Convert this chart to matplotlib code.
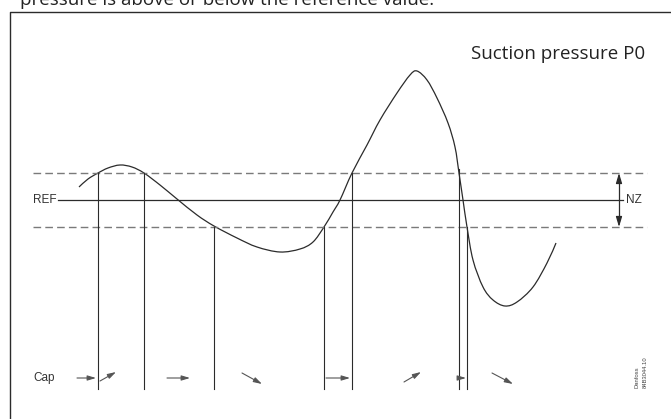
import matplotlib
matplotlib.use("Agg")
import matplotlib.pyplot as plt
from matplotlib.path import Path
from matplotlib.patches import PathPatch

# ---- data (diagram units = pixels of the reference, y grows downward) ----
curve_x = [79, 88, 98, 108, 120, 132, 144, 160, 177, 197, 214, 237, 257, 280, 300,
           313, 324, 333, 340, 352, 367, 380, 397, 410, 417, 427, 437, 448, 455, 459,
           463, 467, 473, 483, 493, 505, 517, 533, 547, 556]
curve_y = [187, 179, 173, 168, 165, 167, 173, 185, 199, 215, 226, 238, 247, 252, 249,
           242, 227, 212, 200, 173, 145, 120, 93, 75, 71, 80, 98, 123, 147, 173,
           200, 227, 260, 287, 300, 306, 302, 287, 263, 243]
ref_level = 200
nz_upper = 173
nz_lower = 227
switch_x = [98, 144, 214, 324, 352, 459, 467]
switch_top = [173, 173, 227, 227, 173, 169, 227]
switch_bottom = 389
cap_arrows = [  # (x0, y0, x1, y1)
    (77, 378, 96, 378),
    (100, 381, 116, 372),
    (167, 378, 190, 378),
    (242, 373, 262, 384),
    (326, 378, 350, 378),
    (404, 382, 421, 372),
    (459, 378, 466, 378),
    (492, 373, 513, 384),
]

W, H = 671, 419
fig = plt.figure(figsize=(W / 100, H / 100), dpi=100)
ax = fig.add_axes([0, 0, 1, 1])
ax.set_xlim(0, W)
ax.set_ylim(H, 0)
ax.axis("off")

dark = "#2b2b2b"
gray = "#7a7a7a"
sans = ["Liberation Sans", "DejaVu Sans"]
myriad = ["Open Sans", "DejaVu Sans"]

# frame (cropped)
ax.plot([10, 10, W + 5], [H + 5, 12, 12], color=dark, lw=1.0, solid_capstyle="butt")

# top cut text
ax.text(20, 5, "pressure is above or below the reference value.", fontsize=13.5,
        family=myriad, color="#222222", ha="left", va="baseline")

# title
ax.text(645, 59, "Suction pressure P0", fontsize=13.5, family=myriad,
        color="#222222", ha="right", va="baseline")

# dashed neutral-zone lines
for y in (nz_upper, nz_lower):
    ax.plot([33, 647], [y, y], color=gray, lw=1.0, dashes=(5.5, 3.0))

# reference line
ax.plot([58, 623], [ref_level, ref_level], color=dark, lw=0.9)
ax.text(33, ref_level, "REF", fontsize=8.5, family=sans, color="#333333",
        ha="left", va="center")
ax.text(626, ref_level, "NZ", fontsize=8.5, family=sans, color="#333333",
        ha="left", va="center")

# NZ double arrow
ax.plot([619, 619], [nz_upper + 6, nz_lower - 6], color=dark, lw=0.9)
for y0, y1 in ((nz_upper + 8, nz_upper), (nz_lower - 8, nz_lower)):
    ax.annotate("", xy=(619, y1), xytext=(619, y0),
                arrowprops=dict(arrowstyle="-|>,head_length=0.6,head_width=0.18",
                                color=dark, lw=0.9, shrinkA=0, shrinkB=0))

# switching vertical lines
for x, yt in zip(switch_x, switch_top):
    ax.plot([x, x], [yt, switch_bottom], color=dark, lw=0.8)

# pressure curve: smooth Bezier path through the read points (Catmull-Rom)
pts = list(zip(curve_x, curve_y))
verts = [pts[0]]
codes = [Path.MOVETO]
n = len(pts)
for i in range(n - 1):
    p0 = pts[i - 1] if i > 0 else pts[i]
    p1 = pts[i]
    p2 = pts[i + 1]
    p3 = pts[i + 2] if i + 2 < n else pts[i + 1]
    c1 = (p1[0] + (p2[0] - p0[0]) / 6.0, p1[1] + (p2[1] - p0[1]) / 6.0)
    c2 = (p2[0] - (p3[0] - p1[0]) / 6.0, p2[1] - (p3[1] - p1[1]) / 6.0)
    verts += [c1, c2, p2]
    codes += [Path.CURVE4] * 3
ax.add_patch(PathPatch(Path(verts, codes), facecolor="none", edgecolor=dark,
                       lw=0.9, joinstyle="round"))

# capacity arrows
ax.text(33, 378, "Cap", fontsize=8.5, family=sans, color="#333333",
        ha="left", va="center")
for x0, y0, x1, y1 in cap_arrows:
    ax.annotate("", xy=(x1, y1), xytext=(x0, y0),
                arrowprops=dict(arrowstyle="-|>,head_length=0.5,head_width=0.15",
                                color="#555555", lw=0.8, shrinkA=0, shrinkB=0))

# drawing reference
ax.text(637, 388, "Danfoss", fontsize=4.2, family=sans, color="#444444",
        rotation=90, rotation_mode="anchor", ha="left", va="center")
ax.text(645, 388, "84B3044.10", fontsize=4.2, family=sans, color="#444444",
        rotation=90, rotation_mode="anchor", ha="left", va="center")

fig.savefig("out.png", dpi=100, facecolor="white")
